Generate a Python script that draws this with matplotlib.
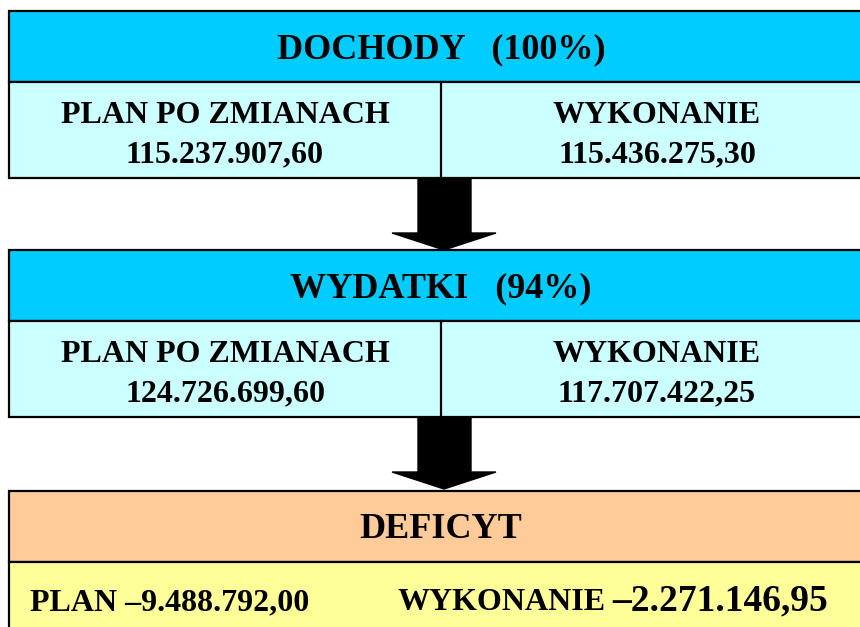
import matplotlib
matplotlib.use("Agg")
from matplotlib import pyplot as plt
from matplotlib.patches import Rectangle, Polygon

# Data -------------------------------------------------------------------------
sections = ["DOCHODY", "WYDATKI"]
section_pct = ["100%", "94%"]
plan_values = [115237907.60, 124726699.60]
exec_values = [115436275.30, 117707422.25]
col_labels = ["PLAN PO ZMIANACH", "WYKONANIE"]
deficit_title = "DEFICYT"

deficit_plan = plan_values[0] - plan_values[1]
deficit_exec = exec_values[0] - exec_values[1]


def fmt_pl(v):
    # 115.237.907,60 style, en dash for minus
    s = "{:,.2f}".format(abs(v)).replace(",", " ").replace(".", ",").replace(" ", ".")
    return ("\u2013" if v < 0 else "") + s


# Style ------------------------------------------------------------------------
HEAD_BLUE = "#00CCFF"
LIGHT_BLUE = "#CCFFFF"
ORANGE = "#FFCC99"
YELLOW = "#FFFF99"
FONT = "Liberation Serif"
LW = 1.6

fig = plt.figure(figsize=(8.6, 6.27), dpi=100)
ax = fig.add_axes([0, 0, 1, 1])
ax.set_xlim(0, 860)
ax.set_ylim(627, 0)
ax.axis("off")

X0, X1 = 9, 873
XMID = (X0 + X1) / 2
HEAD_H = 71
BODY_H = 96
STEP = 239


def box(y0, h, color):
    ax.add_patch(Rectangle((X0, y0), X1 - X0, h, facecolor=color,
                           edgecolor="black", linewidth=LW))


def txt(x, y, s, size, ha="center"):
    ax.text(x, y, s, fontsize=size, fontweight="bold", family=FONT,
            ha=ha, va="baseline", color="black")


def arrow(y_top):
    ax.add_patch(Polygon([(418, y_top), (471, y_top), (471, y_top + 55),
                          (496, y_top + 55), (444, y_top + 72),
                          (392, y_top + 55), (418, y_top + 55)],
                         closed=True, facecolor="black", edgecolor="black",
                         linewidth=1))


# Income / expenses blocks
for i, name in enumerate(sections):
    top = 11 + i * STEP
    box(top, HEAD_H, HEAD_BLUE)
    box(top + HEAD_H, BODY_H, LIGHT_BLUE)
    ax.plot([XMID, XMID], [top + HEAD_H, top + HEAD_H + BODY_H],
            color="black", linewidth=LW)
    txt(XMID, top + 47, "{}   ({})".format(name, section_pct[i]), 26)
    left_c = (X0 + XMID) / 2
    right_c = (XMID + X1) / 2
    txt(left_c, top + 112, col_labels[0], 23)
    txt(left_c, top + 151, fmt_pl(plan_values[i]), 23)
    txt(right_c, top + 112, col_labels[1], 23)
    txt(right_c, top + 151, fmt_pl(exec_values[i]), 23)
    arrow(top + HEAD_H + BODY_H)

# Deficit block
top3 = 11 + 2 * STEP + 2
box(top3, HEAD_H, ORANGE)
box(top3 + HEAD_H, 90, YELLOW)
txt(XMID, top3 + 47, deficit_title, 26)
txt(30, 610, "PLAN " + fmt_pl(deficit_plan), 23, ha="left")
txt(398, 610, "WYKONANIE", 23, ha="left")
txt(828, 610, fmt_pl(deficit_exec), 27, ha="right")

fig.savefig("out.png", dpi=100)
